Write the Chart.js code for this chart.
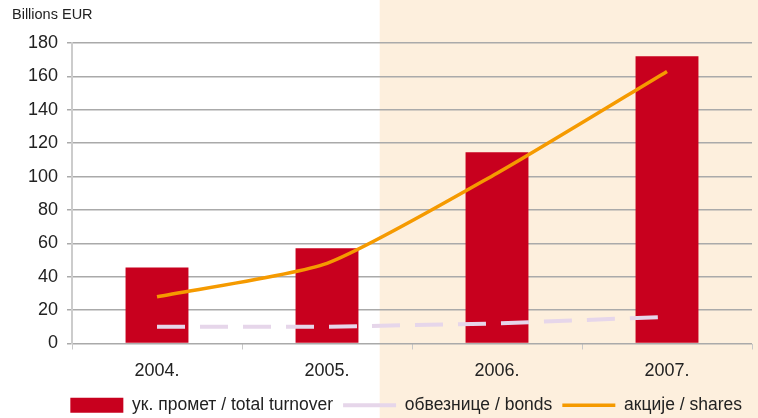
<!DOCTYPE html>
<html>
<head>
<meta charset="utf-8">
<script src="https://cdn.jsdelivr.net/npm/chart.js@4.4.1/dist/chart.umd.min.js"></script>
<style>
  html, body { margin: 0; padding: 0; background: #fff; }
  #wrap { width: 758px; height: 418px; position: relative; }
</style>
</head>
<body>
<div id="wrap"><canvas id="turnover"></canvas></div>
<script>
const years = ['2004.', '2005.', '2006.', '2007.'];
const totalTurnover = [45.5, 57, 114.5, 172];
const bonds = [10, 10, 12, 16];
const shares = [28, 48, 102, 163];

const yTicks = [0, 20, 40, 60, 80, 100, 120, 140, 160, 180];

const FONT = '"Liberation Sans", Arial, sans-serif';

// light shading behind the last two years
const shadePlugin = {
  id: 'shade',
  beforeDraw: function (chart) {
    const ctx = chart.ctx;
    const x = chart.scales.x.getPixelForValue(1.31);
    ctx.save();
    ctx.fillStyle = '#fdefdd';
    ctx.fillRect(x, 0, chart.width - x, chart.height);
    ctx.restore();
  }
};

new Chart(
  document.getElementById('turnover'),
  {
    type: 'bar',
    plugins: [shadePlugin],
    data: {
      labels: years,
      datasets: [
        {
          type: 'bar',
          label: 'ук. промет / total turnover',
          data: totalTurnover,
          backgroundColor: '#c8001e',
          borderWidth: 0,
          barPercentage: 0.37,
          categoryPercentage: 1,
          pointStyle: 'rect',
          order: 3
        },
        {
          type: 'line',
          label: 'обвезнице / bonds',
          data: bonds,
          borderColor: '#e6d6ea',
          backgroundColor: '#e6d6ea',
          borderWidth: 4,
          borderDash: [28, 15],
          pointRadius: 0,
          pointStyle: 'line',
          tension: 0,
          order: 2
        },
        {
          type: 'line',
          label: 'акције / shares',
          data: shares,
          borderColor: '#f59a00',
          backgroundColor: '#f59a00',
          borderWidth: 3.5,
          pointRadius: 0,
          pointStyle: 'line',
          tension: 0.2,
          order: 1
        }
      ]
    },
    options: {
      responsive: true,
      maintainAspectRatio: false,
      animation: false,
      layout: {
        padding: { left: 12, right: 6, top: 0, bottom: -6 }
      },
      plugins: {
        title: {
          display: true,
          text: 'Billions EUR',
          align: 'start',
          color: '#222',
          font: { family: FONT, size: 14.5, weight: 'normal' },
          padding: { top: 6, bottom: 19.6 }
        },
        legend: {
          position: 'bottom',
          align: 'end',
          labels: {
            usePointStyle: true,
            boxWidth: 53,
            boxHeight: 15,
            pointStyleWidth: 53,
            color: '#222',
            font: { family: FONT, size: 17.5 },
            padding: 10,
            sort: function (a, b) {
              return a.datasetIndex - b.datasetIndex;
            }
          }
        },
        tooltip: { enabled: false }
      },
      scales: {
        x: {
          offset: true,
          afterFit: function (axis) {
            axis.height = 43;
          },
          grid: {
            offset: true,
            drawOnChartArea: false,
            drawTicks: true,
            tickLength: 6,
            color: '#c8c8c8',
            lineWidth: 1
          },
          border: { display: false },
          ticks: {
            color: '#222',
            font: { family: FONT, size: 18 },
            padding: 11
          }
        },
        y: {
          min: 0,
          max: 180,
          afterFit: function (axis) {
            axis.width = 60;
          },
          afterBuildTicks: function (axis) {
            axis.ticks = yTicks.map(function (v) {
              return { value: v };
            });
          },
          grid: {
            color: '#aaaaaa',
            lineWidth: 1.5,
            tickLength: 5
          },
          border: { display: true, color: '#cccccc', width: 2 },
          ticks: {
            color: '#222',
            font: { family: FONT, size: 18 },
            padding: 9
          }
        }
      }
    }
  }
);
</script>
</body>
</html>
